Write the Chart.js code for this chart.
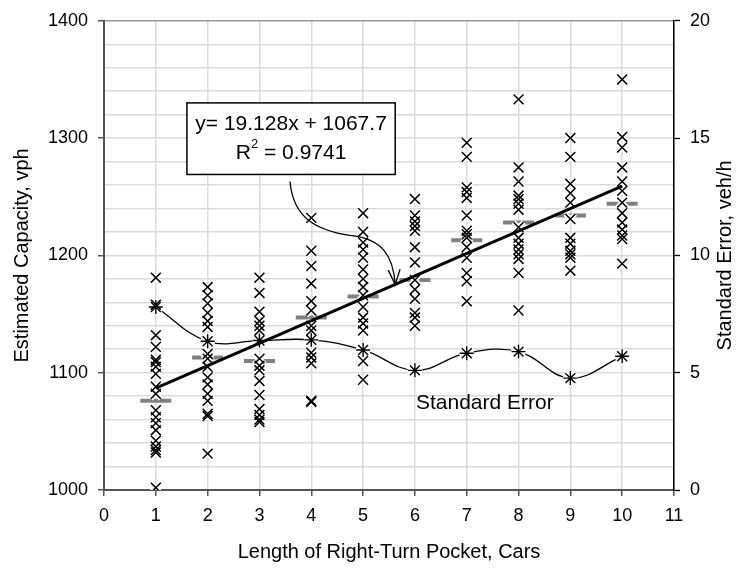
<!DOCTYPE html>
<html lang="en">
<head>
<meta charset="UTF-8">
<title>Right-Turn Pocket Capacity</title>
<script src="https://cdn.jsdelivr.net/npm/chart.js"></script>
<style>
    html, body {
        margin: 0;
        padding: 0;
        background: #fff;
    }
    #wrap {
        width: 742px;
        height: 568px;
    }
</style>
</head>
<body>
<div id="wrap"><canvas id="cap"></canvas></div>
<script>
    // estimated capacity (vph) observed for each pocket length
    const cap1 = [1181, 1158, 1132, 1122, 1111, 1109, 1105, 1099, 1088, 1082, 1068, 1062, 1057, 1051, 1042, 1037, 1034, 1032, 1002];
    const cap2 = [1173, 1166, 1159, 1151, 1144, 1139, 1116, 1112, 1105, 1096, 1090, 1082, 1076, 1065, 1063, 1031];
    const cap3 = [1181, 1168, 1152, 1144, 1140, 1136, 1112, 1106, 1102, 1093, 1081, 1069, 1064, 1060, 1058];
    const cap4 = [1232, 1204, 1191, 1176, 1161, 1153, 1140, 1136, 1117, 1113, 1108, 1076, 1075];
    const cap5 = [1236, 1220, 1211, 1205, 1198, 1188, 1180, 1173, 1166, 1156, 1147, 1142, 1136, 1110, 1094];
    const cap6 = [1248, 1234, 1229, 1225, 1221, 1207, 1194, 1179, 1171, 1163, 1151, 1147, 1140];
    const cap7 = [1296, 1284, 1258, 1254, 1249, 1234, 1221, 1218, 1215, 1207, 1198, 1185, 1178, 1161];
    const cap8 = [1333, 1275, 1263, 1251, 1248, 1244, 1239, 1224, 1215, 1210, 1205, 1201, 1197, 1185, 1153];
    const cap9 = [1300, 1284, 1261, 1253, 1245, 1231, 1215, 1210, 1204, 1201, 1198, 1187];
    const cap10 = [1350, 1301, 1292, 1275, 1263, 1255, 1245, 1236, 1228, 1222, 1217, 1214, 1193];

    const pocketLengths = [1, 2, 3, 4, 5, 6, 7, 8, 9, 10];
    const meanCapacity = [1076, 1113, 1110, 1147, 1165, 1179, 1213, 1228, 1234, 1244];
    const stdError = [7.8, 6.34, 6.37, 6.4, 5.97, 5.1, 5.83, 5.9, 4.77, 5.7];

    // trend line y = 19.128x + 1067.7
    const slope = 19.128;
    const intercept = 1067.7;

    const FONT = 'Liberation Sans, Arial, Helvetica, sans-serif';
    Chart.defaults.font.family = FONT;
    Chart.defaults.color = '#000';

    const capCols = [cap1, cap2, cap3, cap4, cap5, cap6, cap7, cap8, cap9, cap10];
    const capPoints = [];
    capCols.forEach((col, i) => {
        col.forEach(v => capPoints.push({x: pocketLengths[i], y: v}));
    });
    const meanPoints = pocketLengths.map((x, i) => ({x: x, y: meanCapacity[i]}));
    const sePoints = pocketLengths.map((x, i) => ({x: x, y: stdError[i]}));
    const first = pocketLengths[0];
    const last = pocketLengths[pocketLengths.length - 1];
    const trendPoints = [
        {x: first, y: slope * first + intercept},
        {x: last, y: slope * last + intercept}
    ];

    // equation box, curved pointer, series label, right axis title
    const notes = {
        id: 'notes',
        afterDatasetsDraw(chart) {
            const ctx = chart.ctx;
            const sx = chart.scales.x;
            const sy = chart.scales.y;
            const X = v => sx.getPixelForValue(v);
            const Y = v => sy.getPixelForValue(v);
            ctx.save();

            // pointer from the box down to the trend line
            const p0 = [X(3.59), Y(1263)];
            const c1 = [X(3.65), Y(1231)];
            const c2 = [X(4.13), Y(1221)];
            const p1 = [X(4.75), Y(1217)];
            const c3 = [X(5.37), Y(1214)];
            const c4 = [X(5.58), Y(1200)];
            const tipX = 5.62;
            const p2 = [X(tipX), Y(slope * tipX + intercept)];
            ctx.strokeStyle = '#000';
            ctx.lineWidth = 1.3;
            ctx.beginPath();
            ctx.moveTo(p0[0], p0[1]);
            ctx.bezierCurveTo(c1[0], c1[1], c2[0], c2[1], p1[0], p1[1]);
            ctx.bezierCurveTo(c3[0], c3[1], c4[0], c4[1], p2[0], p2[1]);
            ctx.stroke();
            const ang = Math.atan2(p2[1] - c4[1], p2[0] - c4[0]);
            const len = 16;
            ctx.beginPath();
            ctx.moveTo(p2[0] - len * Math.cos(ang - 0.38), p2[1] - len * Math.sin(ang - 0.38));
            ctx.lineTo(p2[0], p2[1]);
            ctx.lineTo(p2[0] - len * Math.cos(ang + 0.38), p2[1] - len * Math.sin(ang + 0.38));
            ctx.stroke();

            // equation box
            const bl = X(1.6), br = X(5.62), bt = Y(1330), bb = Y(1269);
            ctx.fillStyle = '#fff';
            ctx.fillRect(bl, bt, br - bl, bb - bt);
            ctx.lineWidth = 1.5;
            ctx.strokeRect(bl, bt, br - bl, bb - bt);

            const cx = (bl + br) / 2;
            ctx.fillStyle = '#000';
            ctx.textBaseline = 'middle';
            ctx.textAlign = 'center';
            ctx.font = '21px ' + FONT;
            ctx.fillText('y= 19.128x + 1067.7', cx, bt + 21);

            // R² line with raised 2
            const r1 = 'R', r2 = ' = 0.9741';
            ctx.font = '21px ' + FONT;
            const w1 = ctx.measureText(r1).width;
            const w3 = ctx.measureText(r2).width;
            ctx.font = '13px ' + FONT;
            const w2 = ctx.measureText('2').width;
            let lx = cx - (w1 + w2 + w3) / 2;
            const ly = bt + 50;
            ctx.textAlign = 'left';
            ctx.font = '21px ' + FONT;
            ctx.fillText(r1, lx, ly);
            lx += w1;
            ctx.font = '13px ' + FONT;
            ctx.fillText('2', lx, ly - 8);
            lx += w2;
            ctx.font = '21px ' + FONT;
            ctx.fillText(r2, lx, ly);

            // series label
            ctx.fillText('Standard Error', X(6.02), Y(1074));

            ctx.restore();
        },
        afterDraw(chart) {
            const ctx = chart.ctx;
            const area = chart.chartArea;
            ctx.save();
            ctx.translate(725, (area.top + area.bottom) / 2);
            ctx.rotate(-Math.PI / 2);
            ctx.font = '20px ' + FONT;
            ctx.fillStyle = '#000';
            ctx.textAlign = 'center';
            ctx.textBaseline = 'middle';
            ctx.fillText('Standard Error, veh/h', 0, 0);
            ctx.restore();
        }
    };

    new Chart(document.getElementById('cap'), {
        type: 'scatter',
        data: {
            datasets: [
                {
                    type: 'line',
                    label: 'Trend',
                    data: trendPoints,
                    borderColor: '#000',
                    borderWidth: 3,
                    pointRadius: 0,
                    order: 1
                },
                {
                    label: 'Standard error markers',
                    data: sePoints,
                    yAxisID: 'y2',
                    pointStyle: 'star',
                    pointRadius: 7,
                    borderColor: '#000',
                    borderWidth: 1.4,
                    order: 2
                },
                {
                    label: 'Capacity',
                    data: capPoints,
                    pointStyle: 'crossRot',
                    pointRadius: 7,
                    borderColor: '#000',
                    borderWidth: 1.5,
                    order: 3
                },
                {
                    label: 'Standard error halo',
                    data: sePoints,
                    yAxisID: 'y2',
                    pointStyle: 'circle',
                    pointRadius: 7.5,
                    backgroundColor: '#fff',
                    borderWidth: 0,
                    order: 4
                },
                {
                    label: 'Capacity halo',
                    data: capPoints,
                    pointStyle: 'crossRot',
                    pointRadius: 7,
                    borderColor: '#fff',
                    borderWidth: 5,
                    order: 5
                },
                {
                    type: 'line',
                    label: 'Standard error',
                    data: sePoints,
                    yAxisID: 'y2',
                    borderColor: '#000',
                    borderWidth: 1.3,
                    tension: 0.4,
                    pointRadius: 0,
                    order: 6
                },
                {
                    label: 'Average',
                    data: meanPoints,
                    pointStyle: 'line',
                    pointRadius: 15.5,
                    borderColor: '#808080',
                    borderWidth: 4,
                    order: 7
                }
            ]
        },
        options: {
            responsive: true,
            maintainAspectRatio: false,
            animation: false,
            events: [],
            layout: {padding: {top: 19, left: 0, right: 0, bottom: 0}},
            plugins: {
                legend: {display: false},
                tooltip: {enabled: false}
            },
            scales: {
                x: {
                    type: 'linear',
                    position: 'bottom',
                    min: 0,
                    max: 11,
                    afterFit: s => { s.height = 78; },
                    ticks: {stepSize: 1, padding: 9, font: {size: 18}, color: '#000'},
                    grid: {color: '#dadada', lineWidth: 1.5, tickLength: 6, tickColor: '#555', tickWidth: 1.5},
                    border: {color: '#555', width: 2},
                    title: {
                        display: true,
                        text: 'Length of Right-Turn Pocket, Cars',
                        font: {size: 20, lineHeight: 1.2},
                        padding: {top: 0, bottom: 4}
                    }
                },
                y: {
                    position: 'left',
                    min: 1000,
                    max: 1400,
                    afterFit: s => { s.width = 104; },
                    ticks: {
                        stepSize: 20,
                        autoSkip: false,
                        padding: 10,
                        font: {size: 18},
                        color: '#000',
                        callback: v => (v % 100 === 0 ? v : '')
                    },
                    grid: {
                        color: c => (c.tick && c.tick.value === 1400 ? '#9a9a9a' : '#dadada'),
                        lineWidth: 1.5,
                        tickLength: 6,
                        tickWidth: 1.5,
                        tickColor: c => (c.tick && c.tick.value % 100 === 0 ? '#555' : 'rgba(0,0,0,0)')
                    },
                    border: {color: '#555', width: 2},
                    title: {
                        display: true,
                        text: 'Estimated Capacity, vph',
                        font: {size: 20, lineHeight: 1.2},
                        padding: {top: 10, bottom: 0}
                    }
                },
                y2: {
                    position: 'right',
                    min: 0,
                    max: 20,
                    afterFit: s => { s.width = 68; },
                    ticks: {stepSize: 5, padding: 10, font: {size: 18}, color: '#000'},
                    grid: {drawOnChartArea: false, tickLength: 6, tickColor: '#000', tickWidth: 1.3},
                    border: {color: '#000', width: 1.5}
                }
            }
        },
        plugins: [notes]
    });
</script>
</body>
</html>
